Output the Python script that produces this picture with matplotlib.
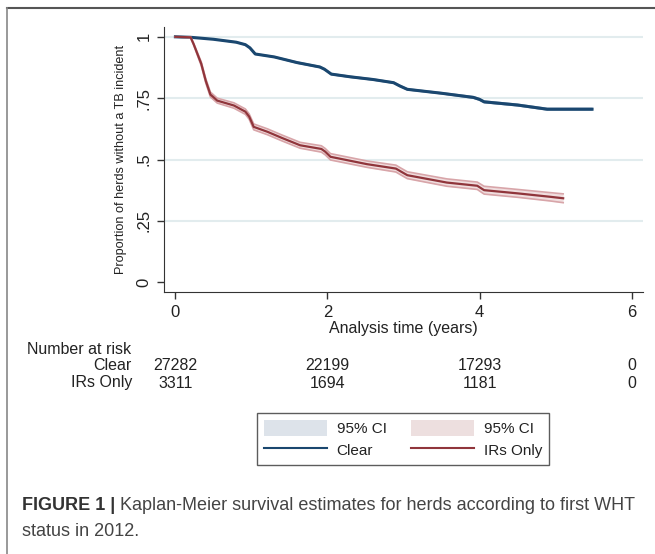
import numpy as np
import matplotlib.pyplot as plt
from matplotlib.lines import Line2D
from matplotlib.patches import Patch

plt.rcParams['font.family'] = ['Liberation Sans', 'DejaVu Sans']

# survival estimates
clear_t = [0, 0.2, 0.5, 0.8, 0.92, 0.98, 1.05, 1.3, 1.6, 1.9, 1.96, 2.05, 2.3, 2.6, 2.87, 2.95, 3.05, 3.5, 3.92, 4.0, 4.06, 4.5, 4.89, 5.48]
clear_s = [1.0, 0.998, 0.99, 0.978, 0.968, 0.955, 0.93, 0.918, 0.895, 0.877, 0.868, 0.848, 0.837, 0.826, 0.813, 0.800, 0.786, 0.770, 0.753, 0.745, 0.735, 0.722, 0.705, 0.705]
clear_ci = [0.0, 0.001, 0.001, 0.002, 0.002, 0.002, 0.002, 0.002, 0.003, 0.003, 0.003, 0.003, 0.003, 0.003, 0.003, 0.003, 0.003, 0.003, 0.004, 0.004, 0.004, 0.004, 0.004, 0.004]

irs_t = [0, 0.2, 0.24, 0.29, 0.34, 0.4, 0.46, 0.55, 0.77, 0.92, 0.97, 1.03, 1.21, 1.4, 1.64, 1.92, 1.97, 2.04, 2.52, 2.9, 2.96, 3.05, 3.57, 3.97, 4.06, 4.5, 4.93, 5.1]
irs_s = [1.0, 0.998, 0.97, 0.93, 0.89, 0.82, 0.765, 0.74, 0.72, 0.695, 0.675, 0.633, 0.613, 0.588, 0.558, 0.543, 0.532, 0.511, 0.481, 0.463, 0.452, 0.436, 0.406, 0.393, 0.375, 0.362, 0.348, 0.342]
irs_ci = [0.0, 0.002, 0.004, 0.006, 0.008, 0.009, 0.01, 0.01, 0.011, 0.011, 0.011, 0.012, 0.012, 0.012, 0.012, 0.013, 0.013, 0.013, 0.013, 0.014, 0.014, 0.014, 0.015, 0.015, 0.016, 0.016, 0.017, 0.018]

risk_times = [0, 2, 4, 6]
risk_clear = ['27282', '22199', '17293', '0']
risk_irs = ['3311', '1694', '1181', '0']

navy = '#1a476f'
cranberry = '#90353b'
txt = '#222222'

fig = plt.figure(figsize=(6.55, 5.54), dpi=100)
ax = fig.add_axes([164 / 655, 1 - 292 / 554, (643 - 164) / 655, (292 - 27) / 554])

ct = np.array(clear_t); cs = np.array(clear_s); cc = np.array(clear_ci)
it = np.array(irs_t); is_ = np.array(irs_s); ic = np.array(irs_ci)

ax.fill_between(ct, cs - cc, cs + cc, color='#b9c7d6', lw=0)
ax.plot(ct, cs - cc, color='#8aa1ba', lw=0.8)
ax.plot(ct, cs + cc, color='#8aa1ba', lw=0.8)
ax.plot(ct, cs, color=navy, lw=2.2)

ax.fill_between(it, is_ - ic, is_ + ic, color='#f0dedf', lw=0)
ax.plot(it, is_ - ic, color='#d8a5a9', lw=1.2)
ax.plot(it, is_ + ic, color='#d8a5a9', lw=1.2)
ax.plot(it, is_, color=cranberry, lw=1.6)

ax.set_xlim(-0.15, 6.15)
ax.set_ylim(-0.04, 1.04)
ax.set_yticks([0, 0.25, 0.5, 0.75, 1])
ax.set_yticklabels(['0', '.25', '.5', '.75', '1'], rotation=90, va='center', fontsize=12, color=txt)
ax.set_xticks(risk_times)
ax.set_xticklabels([str(t) for t in risk_times], fontsize=12, color=txt)
ax.tick_params(axis='both', length=5, width=1, color='#333333', pad=4)
for y in [0.25, 0.5, 0.75, 1]:
    ax.axhline(y, color='#e2ecee', lw=1.5, zorder=0)
for s in ['top', 'right']:
    ax.spines[s].set_visible(False)
for s in ['left', 'bottom']:
    ax.spines[s].set_color('#333333')
ax.set_ylabel('Proportion of herds without a TB incident', fontsize=9.1, color=txt, labelpad=7)
ax.set_xlabel('Analysis time (years)', fontsize=11.5, color=txt, labelpad=1)

# number at risk table
tr = ax.get_xaxis_transform()
fig.text(27 / 655, 1 - 349 / 554, 'Number at risk', fontsize=11.5, color=txt, va='center')
fig.text(132 / 655, 1 - 366 / 554, 'Clear', fontsize=11.5, color=txt, va='center', ha='right')
fig.text(132 / 655, 1 - 383 / 554, 'IRs Only', fontsize=11.5, color=txt, va='center', ha='right')
y_clear = (1 - 366 / 554 - ax.get_position().y0) / ax.get_position().height
y_irs = (1 - 383 / 554 - ax.get_position().y0) / ax.get_position().height
for t, a, b in zip(risk_times, risk_clear, risk_irs):
    ax.text(t, y_clear, a, transform=tr, ha='center', va='center', fontsize=11.5, color=txt, clip_on=False)
    ax.text(t, y_irs, b, transform=tr, ha='center', va='center', fontsize=11.5, color=txt, clip_on=False)

handles = [Patch(facecolor='#dde3ea', edgecolor='none'), Line2D([], [], color=navy, lw=1.5),
           Patch(facecolor='#eddfdf', edgecolor='none'), Line2D([], [], color=cranberry, lw=1.5)]
labels = ['95% CI', 'Clear', '95% CI', 'IRs Only']
leg = fig.legend(handles, labels, ncol=2, loc='center', bbox_to_anchor=(403 / 655, 1 - 439 / 554),
                 fontsize=11, frameon=True, fancybox=False, handlelength=4.1, handleheight=1.2,
                 columnspacing=1.6, handletextpad=0.65, labelspacing=0.35, borderpad=0.45)
leg.get_frame().set_edgecolor('#333333')
leg.get_frame().set_linewidth(1)
for t in leg.get_texts():
    t.set_color(txt)

# caption
cap1 = fig.text(22 / 655, 1 - 506 / 554, 'FIGURE 1 |', fontsize=13, fontweight='bold', color='#333333', va='center')
fig.canvas.draw()
bb = cap1.get_window_extent()
fig.text(bb.x1 / 655 + 5 / 655, 1 - 506 / 554, 'Kaplan-Meier survival estimates for herds according to first WHT',
         fontsize=13, color='#444444', va='center')
fig.text(22 / 655, 1 - 532 / 554, 'status in 2012.', fontsize=13, color='#444444', va='center')

# frame lines
fig.add_artist(Line2D([7 / 655, 1], [1 - 8 / 554, 1 - 8 / 554], transform=fig.transFigure, color='#555555', lw=1.5))
fig.add_artist(Line2D([7 / 655, 7 / 655], [0, 1 - 8 / 554], transform=fig.transFigure, color='#888888', lw=1.2))

fig.savefig('out.png', dpi=100)
